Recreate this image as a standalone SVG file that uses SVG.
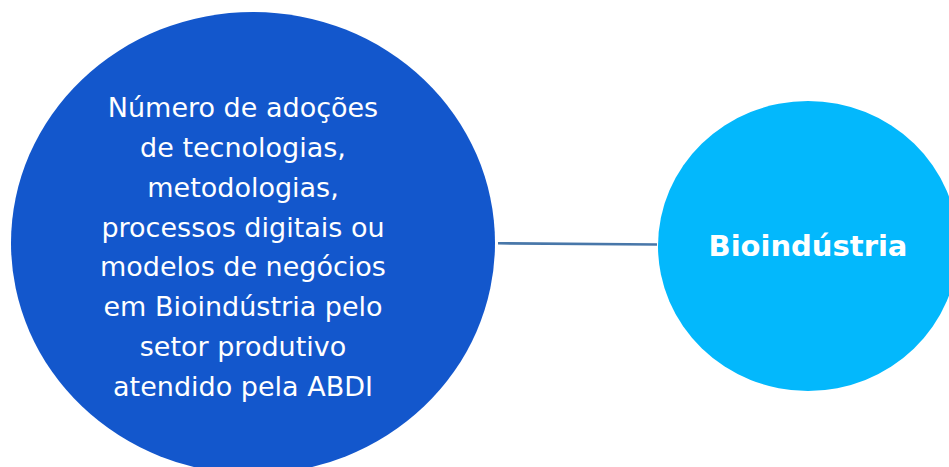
<svg xmlns="http://www.w3.org/2000/svg" width="949" height="467" viewBox="0 0 949 467">
<style>
.t{font-family:"DejaVu Sans","Noto Sans",sans-serif;font-size:27px;fill:#ffffff;text-anchor:middle}
.b{font-family:"DejaVu Sans","Noto Sans",sans-serif;font-size:29px;font-weight:bold;fill:#ffffff;text-anchor:middle}
.edge{stroke:#4877A9;stroke-width:2.6;fill:none}
</style>
<rect width="949" height="467" fill="#ffffff"/>
<g id="connectors">
<line class="edge" x1="498" y1="243.3" x2="657" y2="244.5"/>
</g>
<g id="node-indicador">
<ellipse cx="253" cy="243" rx="242" ry="231" fill="#1357CC"/>
<text class="t" x="243" y="117">Número de adoções</text>
<text class="t" x="243" y="157">de tecnologias,</text>
<text class="t" x="243" y="197">metodologias,</text>
<text class="t" x="243" y="237">processos digitais ou</text>
<text class="t" x="243" y="276">modelos de negócios</text>
<text class="t" x="243" y="316">em Bioindústria pelo</text>
<text class="t" x="243" y="356">setor produtivo</text>
<text class="t" x="243" y="396">atendido pela ABDI</text>
</g>
<g id="node-bioindustria">
<ellipse cx="808" cy="246" rx="150" ry="145" fill="#03B8FC"/>
<text class="b" x="808" y="256">Bioindústria</text>
</g>
</svg>
